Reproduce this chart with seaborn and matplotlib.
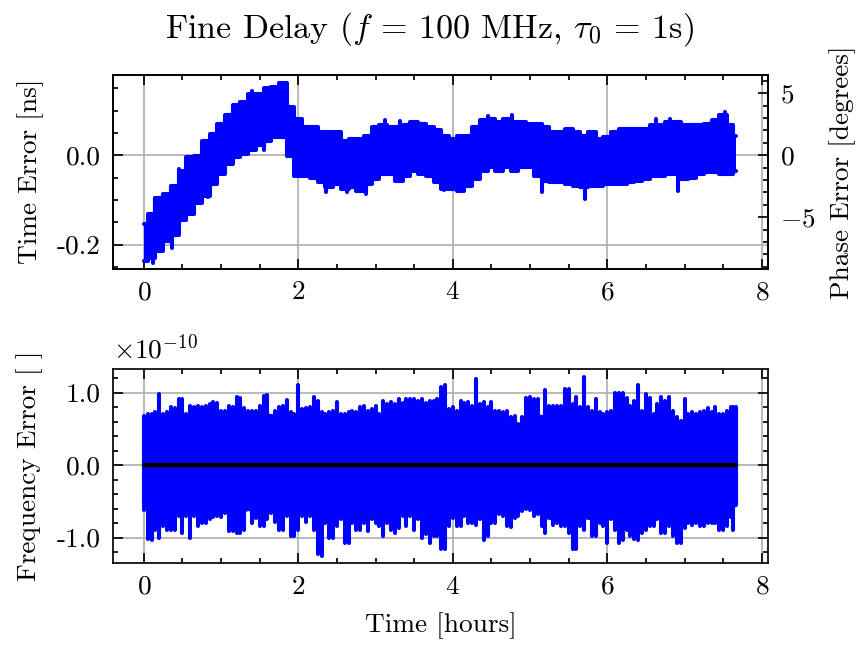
import numpy as np
import pandas as pd
import matplotlib
import matplotlib.pyplot as plt
import seaborn as sns
from matplotlib.ticker import MultipleLocator, ScalarFormatter

# ============================================================
# DATA
# ============================================================
F_HZ = 100e6
DEG_PER_NS = 360 * F_HZ * 1e-9

t_hours = [0.0, 0.1, 0.2, 0.3, 0.4, 0.5, 0.6, 0.7, 0.8, 0.9,
           1.0, 1.1, 1.2, 1.3, 1.4, 1.5, 1.6, 1.7, 1.8, 1.9,
           2.0, 2.1, 2.2, 2.3, 2.4, 2.5, 2.6, 2.7, 2.8, 2.9,
           3.0, 3.1, 3.2, 3.3, 3.4, 3.5, 3.6, 3.7, 3.8, 3.9,
           4.0, 4.1, 4.2, 4.3, 4.4, 4.5, 4.6, 4.7, 4.8, 4.9,
           5.0, 5.1, 5.2, 5.3, 5.4, 5.5, 5.6, 5.7, 5.8, 5.9,
           6.0, 6.1, 6.2, 6.3, 6.4, 6.5, 6.6, 6.7, 6.8, 6.9,
           7.0, 7.1, 7.2, 7.3, 7.4, 7.5, 7.6, 7.66]

t_mid = [0.05, 0.15, 0.25, 0.35, 0.45, 0.55, 0.65, 0.75, 0.85, 0.95,
         1.05, 1.15, 1.25, 1.35, 1.45, 1.55, 1.65, 1.75, 1.85, 1.95,
         2.05, 2.15, 2.25, 2.35, 2.45, 2.55, 2.65, 2.75, 2.85, 2.95,
         3.05, 3.15, 3.25, 3.35, 3.45, 3.55, 3.65, 3.75, 3.85, 3.95,
         4.05, 4.15, 4.25, 4.35, 4.45, 4.55, 4.65, 4.75, 4.85, 4.95,
         5.05, 5.15, 5.25, 5.35, 5.45, 5.55, 5.65, 5.75, 5.85, 5.95,
         6.05, 6.15, 6.25, 6.35, 6.45, 6.55, 6.65, 6.75, 6.85, 6.95,
         7.05, 7.15, 7.25, 7.35, 7.45, 7.55, 7.63]

# time error envelope [ns]
te_hi = [-0.155, -0.132, -0.095, -0.087, -0.068, -0.035, -0.005, -0.001, 0.033, 0.048,
         0.071, 0.090, 0.112, 0.120, 0.138, 0.138, 0.150, 0.153, 0.161, 0.108,
         0.082, 0.063, 0.063, 0.052, 0.052, 0.052, 0.033, 0.037, 0.037, 0.044,
         0.063, 0.067, 0.063, 0.063, 0.067, 0.074, 0.071, 0.063, 0.056, 0.044,
         0.037, 0.044, 0.044, 0.063, 0.078, 0.082, 0.074, 0.082, 0.074, 0.074,
         0.071, 0.071, 0.063, 0.052, 0.052, 0.059, 0.052, 0.044, 0.052, 0.037,
         0.041, 0.052, 0.059, 0.059, 0.059, 0.059, 0.067, 0.067, 0.074, 0.074,
         0.067, 0.067, 0.067, 0.071, 0.078, 0.090, 0.067, 0.044]
te_lo = [-0.238, -0.230, -0.215, -0.193, -0.178, -0.144, -0.132, -0.106, -0.091, -0.065,
         -0.042, -0.020, -0.005, 0.003, 0.011, 0.022, 0.033, 0.041, 0.041, -0.001,
         -0.046, -0.046, -0.050, -0.061, -0.072, -0.065, -0.076, -0.072, -0.080, -0.065,
         -0.053, -0.042, -0.042, -0.057, -0.046, -0.035, -0.042, -0.046, -0.061, -0.076,
         -0.076, -0.080, -0.068, -0.053, -0.035, -0.027, -0.035, -0.027, -0.035, -0.027,
         -0.027, -0.046, -0.057, -0.061, -0.061, -0.065, -0.068, -0.072, -0.068, -0.068,
         -0.065, -0.065, -0.065, -0.061, -0.057, -0.053, -0.046, -0.046, -0.042, -0.042,
         -0.053, -0.050, -0.042, -0.038, -0.038, -0.042, -0.042, -0.035]

# isolated time error spikes: time, from, to [ns]
te_spike_t = [0.12, 0.15, 0.37, 0.46, 0.83, 1.40, 1.56, 1.78, 2.36, 2.63, 2.87,
              3.12, 3.31, 3.88, 4.46, 4.77, 5.15, 5.71, 6.63, 6.81, 6.91, 7.52]
te_spike_a = [-0.220, -0.130, -0.180, -0.060, -0.070, 0.120, 0.030, 0.140, -0.060, -0.060, -0.060,
              0.050, 0.050, -0.050, 0.060, 0.060, -0.040, -0.060, 0.050, 0.050, -0.030, 0.060]
te_spike_b = [-0.241, -0.095, -0.208, -0.031, -0.093, 0.144, 0.011, 0.163, -0.083, -0.083, -0.086,
              0.080, 0.077, -0.078, 0.087, 0.091, -0.083, -0.097, 0.082, 0.082, -0.080, 0.097]

# frequency error: dense core and extremes [x1e-10]
fe_core_hi = [0.66, 0.68, 0.70, 0.70, 0.72, 0.70, 0.70, 0.70, 0.72, 0.72,
              0.70, 0.70, 0.72, 0.70, 0.70, 0.70, 0.72, 0.70, 0.70, 0.68,
              0.70, 0.70, 0.70, 0.68, 0.66, 0.68, 0.66, 0.68, 0.70, 0.70,
              0.70, 0.72, 0.72, 0.72, 0.74, 0.74, 0.74, 0.74, 0.72, 0.72,
              0.70, 0.72, 0.68, 0.70, 0.68, 0.66, 0.64, 0.62, 0.60, 0.58,
              0.66, 0.70, 0.70, 0.70, 0.68, 0.68, 0.68, 0.68, 0.66, 0.66,
              0.66, 0.68, 0.68, 0.68, 0.66, 0.66, 0.64, 0.64, 0.64, 0.62,
              0.64, 0.66, 0.64, 0.64, 0.66, 0.66, 0.64, 0.64]
fe_core_lo = [-0.45, -0.64, -0.66, -0.66, -0.66, -0.64, -0.64, -0.66, -0.64, -0.62,
              -0.62, -0.66, -0.66, -0.64, -0.62, -0.62, -0.62, -0.62, -0.64, -0.66,
              -0.66, -0.62, -0.62, -0.64, -0.64, -0.62, -0.64, -0.62, -0.64, -0.64,
              -0.62, -0.64, -0.64, -0.66, -0.66, -0.68, -0.68, -0.70, -0.70, -0.66,
              -0.64, -0.66, -0.64, -0.66, -0.68, -0.64, -0.62, -0.64, -0.62, -0.60,
              -0.60, -0.66, -0.74, -0.76, -0.76, -0.76, -0.76, -0.74, -0.76, -0.74,
              -0.74, -0.74, -0.76, -0.76, -0.74, -0.74, -0.72, -0.74, -0.72, -0.74,
              -0.72, -0.72, -0.72, -0.72, -0.72, -0.74, -0.72, -0.55]
fe_max = [0.68, 0.70, 0.98, 0.73, 0.78, 0.91, 0.82, 0.82, 0.82, 0.87,
          0.75, 0.82, 0.94, 0.78, 0.75, 0.82, 0.96, 0.75, 0.82, 0.73,
          1.10, 0.78, 0.94, 0.73, 0.73, 0.87, 0.71, 0.75, 0.80, 0.75,
          0.82, 0.89, 0.87, 0.91, 0.91, 0.91, 0.91, 0.89, 0.91, 1.10,
          0.80, 0.89, 0.87, 1.19, 0.87, 0.87, 0.75, 0.75, 0.68, 0.66,
          0.94, 0.91, 1.03, 0.82, 0.82, 1.05, 0.94, 1.21, 0.75, 0.73,
          0.73, 1.00, 1.00, 0.82, 1.10, 0.98, 0.70, 0.94, 0.94, 0.66,
          0.91, 0.73, 0.73, 0.78, 0.80, 0.71, 0.80, 0.80]
fe_min = [-0.62, -1.03, -1.00, -0.89, -0.89, -0.94, -1.00, -0.84, -0.80, -0.71,
          -0.71, -0.91, -0.94, -0.89, -0.80, -0.84, -0.75, -0.78, -0.89, -0.98,
          -0.89, -0.78, -0.89, -1.25, -1.00, -0.84, -1.07, -0.80, -0.89, -0.91,
          -0.80, -0.98, -0.89, -0.87, -0.84, -0.89, -1.00, -1.07, -0.98, -1.16,
          -0.73, -0.84, -0.80, -0.82, -1.03, -0.80, -0.68, -0.84, -0.73, -0.64,
          -0.62, -0.68, -0.94, -0.82, -0.84, -0.94, -1.16, -0.89, -0.98, -0.80,
          -1.07, -0.89, -1.03, -0.98, -1.03, -0.89, -0.84, -0.94, -0.84, -1.07,
          -0.87, -0.82, -0.84, -0.80, -0.80, -0.89, -0.71, -0.55]
fe_mid_max = [0.70, 0.73, 0.70, 0.80, 0.91, 0.70, 0.80, 0.80, 0.84, 0.86,
              0.75, 0.80, 0.93, 0.75, 0.75, 0.95, 0.66, 0.80, 0.90, 0.70,
              0.77, 0.80, 0.89, 0.70, 0.75, 0.70, 0.73, 0.73, 0.82, 0.77,
              0.70, 0.84, 0.84, 0.86, 0.91, 0.89, 0.86, 0.89, 1.07, 0.77,
              0.75, 0.86, 0.82, 0.84, 0.80, 0.75, 0.73, 0.66, 0.57, 0.93,
              0.91, 0.66, 0.82, 0.82, 1.05, 0.84, 0.80, 0.80, 0.91, 0.70,
              0.75, 1.00, 0.93, 0.89, 0.75, 0.93, 0.84, 0.89, 0.75, 0.61,
              0.70, 0.70, 0.75, 0.73, 0.70, 0.75, 0.80]
fe_mid_min = [-1.02, -0.89, -0.84, -0.89, -0.70, -0.70, -0.70, -0.80, -0.75, -0.70,
              -0.66, -0.91, -0.93, -0.57, -0.73, -0.84, -0.66, -0.89, -0.70, -0.98,
              -0.70, -0.70, -1.23, -0.80, -1.00, -0.75, -1.07, -0.89, -0.80, -0.75,
              -0.84, -0.80, -0.93, -0.70, -0.70, -0.75, -0.95, -0.98, -1.16, -0.84,
              -0.84, -0.70, -0.80, -0.75, -0.98, -0.80, -0.70, -0.86, -0.70, -0.61,
              -0.70, -0.84, -0.70, -0.80, -0.84, -1.16, -0.84, -0.70, -0.98, -0.84,
              -0.75, -1.07, -0.89, -1.02, -0.93, -0.84, -0.75, -0.93, -0.98, -1.07,
              -0.80, -0.80, -0.84, -0.80, -0.89, -0.84, -0.89]

# running mean of the frequency error (flat at zero)
mean_t = [0.0, 7.66]
mean_fe = [0.0, 0.0]

# ============================================================
# STYLE
# ============================================================
sns.set_theme(style="ticks")
plt.rcParams.update({
    "font.family": ["cmr10", "DejaVu Serif"],
    "mathtext.fontset": "cm",
    "axes.formatter.use_mathtext": True,
    "font.size": 8,
    "axes.labelsize": 8,
    "xtick.labelsize": 8,
    "ytick.labelsize": 8,
    "text.color": "black",
    "axes.labelcolor": "black",
    "axes.linewidth": 0.5,
    "axes.edgecolor": "black",
    "axes.facecolor": "white",
    "xtick.direction": "in",
    "ytick.direction": "in",
    "xtick.top": True,
    "ytick.right": True,
    "xtick.major.size": 3,
    "xtick.minor.size": 1.5,
    "ytick.major.size": 3,
    "ytick.minor.size": 1.5,
    "xtick.major.width": 0.5,
    "xtick.minor.width": 0.5,
    "ytick.major.width": 0.5,
    "ytick.minor.width": 0.5,
    "xtick.color": "black",
    "ytick.color": "black",
    "grid.color": "#b0b0b0",
    "grid.linewidth": 0.5,
})


class PlainFmt(ScalarFormatter):
    def __call__(self, x, pos=None):
        return f"{x / 10 ** self.orderOfMagnitude:.1f}"


t = np.array(t_hours)
tm = np.array(t_mid)
fe_scale = 1e-10

DPI = 245.5
fig, (ax1, ax2) = plt.subplots(2, 1, figsize=(859 / DPI, 646 / DPI), dpi=DPI)
fig.subplots_adjust(left=0.1315, right=0.894, top=0.884, bottom=0.1285, hspace=0.52)

# ------------------------------------------------------------
# TIME ERROR
# ------------------------------------------------------------
ax1.fill_between(t, te_lo, te_hi, color="blue", lw=0, step="mid")
sns.lineplot(x=t, y=te_hi, color="blue", lw=1.2, ax=ax1, drawstyle="steps-mid")
sns.lineplot(x=t, y=te_lo, color="blue", lw=1.2, ax=ax1, drawstyle="steps-mid")
ax1.vlines(te_spike_t, te_spike_a, te_spike_b, color="blue", lw=1.2, capstyle="round")
ax1.set_xlim(-0.4, 8.08)
ax1.set_ylim(-0.254, 0.18)
ax1.set_ylabel("Time Error [ns]")
ax1.xaxis.set_major_locator(MultipleLocator(2))
ax1.xaxis.set_minor_locator(MultipleLocator(0.5))
ax1.yaxis.set_major_locator(MultipleLocator(0.2))
ax1.yaxis.set_minor_locator(MultipleLocator(0.05))
ax1.yaxis.set_major_formatter(PlainFmt())
ax1.grid(True, which="major")

axp = ax1.twinx()
lo, hi = ax1.get_ylim()
axp.set_ylim(lo * DEG_PER_NS, hi * DEG_PER_NS)
axp.set_ylabel("Phase Error [degrees]")
axp.yaxis.set_major_locator(MultipleLocator(5))
axp.yaxis.set_minor_locator(MultipleLocator(1))
axp.tick_params(which="both", direction="in", left=False, right=True)

# ------------------------------------------------------------
# FREQUENCY ERROR
# ------------------------------------------------------------
ax2.fill_between(t, np.array(fe_core_lo) * fe_scale, np.array(fe_core_hi) * fe_scale,
                 color="blue", lw=0)
ax2.vlines(t, np.array(fe_min) * fe_scale, np.array(fe_max) * fe_scale,
           color="blue", lw=1.2, capstyle="round")
ax2.vlines(tm, np.array(fe_mid_min) * fe_scale, np.array(fe_mid_max) * fe_scale,
           color="blue", lw=1.2, capstyle="round")
sns.lineplot(x=np.array(mean_t), y=np.array(mean_fe) * fe_scale, color="black", lw=1.3, ax=ax2)
ax2.set_xlim(-0.4, 8.08)
ax2.set_ylim(-1.35e-10, 1.32e-10)
ax2.set_xlabel("Time [hours]")
ax2.set_ylabel("Frequency Error [ ]")
ax2.xaxis.set_major_locator(MultipleLocator(2))
ax2.xaxis.set_minor_locator(MultipleLocator(0.5))
ax2.yaxis.set_major_locator(MultipleLocator(1e-10))
ax2.yaxis.set_minor_locator(MultipleLocator(0.2e-10))
ax2.yaxis.set_major_formatter(PlainFmt(useMathText=True))
ax2.grid(True, which="major")

for ax in (ax1, ax2, axp):
    for s in ax.spines.values():
        s.set_visible(True)
        s.set_linewidth(0.5)
        s.set_color("black")

fig.suptitle(r"Fine Delay ($f$ = 100 MHz, $\tau_0$ = 1s)", y=0.985, fontsize=10)

fig.savefig("out.png", dpi=DPI)
